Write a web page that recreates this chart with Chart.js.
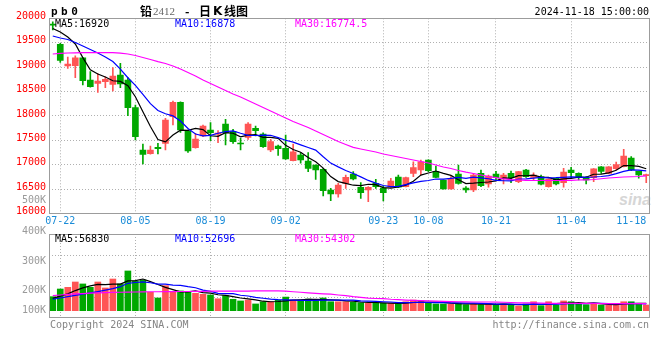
<!DOCTYPE html>
<html><head><meta charset="utf-8">
<script src="https://cdn.jsdelivr.net/npm/chart.js@4.4.1/dist/chart.umd.min.js"></script>
<style>
html,body{margin:0;padding:0;background:#fff;}
#wrap{position:relative;width:660px;height:360px;overflow:hidden;background:#fff;}
canvas{position:absolute;left:0;top:0;}
.t{position:absolute;font-family:'DejaVu Sans Mono',monospace;font-size:10px;line-height:12px;white-space:pre;}
.k{left:0;width:46px;text-align:right;color:#9a9a9a;}
</style></head><body>
<div id="wrap">
<div class="t" style="left:619px;top:191px;font:italic bold 16px 'Liberation Sans',sans-serif;color:#d6d6d6;line-height:18px;">sina</div>
<canvas id="pc" width="660" height="360"></canvas>
<canvas id="vc" width="660" height="360"></canvas>
<div class="t" style="left:51px;top:5px;font:bold 11px 'DejaVu Sans Mono',monospace;letter-spacing:3.5px;line-height:13px;color:#000;">pb0</div>
<div class="t" style="left:140px;top:4px;font:bold 12px 'Noto Sans CJK SC';line-height:14px;">铅</div>
<div class="t" style="left:153px;top:5px;font:11px 'Liberation Serif',serif;line-height:13px;color:#666;">2412</div>
<div class="t" style="left:185px;top:4px;font:bold 12px 'Noto Sans CJK SC';line-height:14px;">-</div>
<div class="t" style="left:199px;top:4px;font:bold 12px 'Noto Sans CJK SC';line-height:14px;">日</div>
<div class="t" style="left:213px;top:4px;font:bold 12px 'DejaVu Sans',sans-serif;line-height:14px;">K</div>
<div class="t" style="left:224px;top:4px;font:bold 12px 'Noto Sans CJK SC';line-height:14px;">线图</div>
<div class="t" id="dt" style="right:11px;top:6px;color:#000;"></div>
<div class="t" id="m5" style="left:55px;top:18px;color:#000;"></div>
<div class="t" id="m10" style="left:175px;top:18px;color:#0000ff;"></div>
<div class="t" id="m30" style="left:295px;top:18px;color:#ff00ff;"></div>
<div class="t" id="v5" style="left:55px;top:233px;color:#000;"></div>
<div class="t" id="v10" style="left:175px;top:233px;color:#0000ff;"></div>
<div class="t" id="v30" style="left:295px;top:233px;color:#ff00ff;"></div>
<div class="t k" id="k0" style="top:194px;"></div>
<div class="t k" id="k1" style="top:225px;"></div>
<div class="t k" id="k2" style="top:255px;"></div>
<div class="t k" id="k3" style="top:284px;"></div>
<div class="t k" id="k4" style="top:304px;"></div>
<div class="t" id="cp" style="left:50px;top:319px;color:#858585;"></div>
<div class="t" id="url" style="right:11px;top:319px;color:#858585;"></div>
</div>
<script>
const stamp = '2024-11-18 15:00:00';
const dates = ['07-19','07-22','07-23','07-24','07-25','07-26','07-29','07-30','07-31','08-01','08-02',
'08-05','08-06','08-07','08-08','08-09','08-12','08-13','08-14','08-15','08-16',
'08-19','08-20','08-21','08-22','08-23','08-26','08-27','08-28','08-29','08-30',
'09-02','09-03','09-04','09-05','09-06','09-09','09-10','09-11','09-12','09-13',
'09-18','09-19','09-20','09-23','09-24','09-25','09-26','09-27','09-30',
'10-08','10-09','10-10','10-11','10-14','10-15','10-16','10-17','10-18',
'10-21','10-22','10-23','10-24','10-25','10-28','10-29','10-30','10-31','11-01',
'11-04','11-05','11-06','11-07','11-08','11-11','11-12','11-13','11-14','11-15','11-18'];
const tickDates = ['07-22','08-05','08-19','09-02','09-23','10-08','10-21','11-04','11-18'];
const open = [19870,19468,19024,19030,19193,18737,18669,18702,18649,18839,
18737,18170,17304,17228,17360,17441,17986,18281,17693,17351,
17591,17714,17626,17836,17679,17437,17564,17748,17632,17304,
17386,17339,17085,17201,17079,16997,16909,16485,16403,16622,
16813,16541,16485,16622,16526,16541,16751,16553,16827,16895,
17099,16860,16690,16506,16813,16526,16485,16827,16608,16813,
16725,16827,16655,16895,16745,16758,16553,16725,16635,16895,
16827,16737,16737,16962,16827,16921,16962,17140,16868,16778];
const high = [19930,19488,19208,19234,19200,18907,18866,18804,18989,19079,
18784,18225,17427,17386,17441,17953,18307,18290,17714,17646,
17816,17863,17699,17932,17728,17543,17863,17795,17658,17523,
17406,17611,17427,17249,17249,17000,16930,16520,16623,16792,
16860,16635,16553,16704,16567,16725,16792,16751,17064,17099,
17105,16977,16695,16758,16997,16553,16827,16895,16792,16868,
16827,16874,16865,16909,16839,16792,16715,16730,16929,16950,
16839,16758,16925,16965,16965,17058,17318,17167,16872,16813];
const low = [19760,19099,18976,18784,18635,18590,18485,18579,18512,18579,
18006,17509,17018,17220,17222,17304,17816,17666,17257,17340,
17576,17494,17453,17406,17441,17304,17523,17591,17359,17269,
17195,17110,17080,17032,16860,16704,16363,16266,16336,16520,
16690,16315,16246,16520,16260,16535,16535,16548,16757,16792,
16860,16740,16500,16500,16602,16438,16451,16553,16541,16690,
16608,16635,16635,16745,16690,16588,16541,16588,16541,16725,
16690,16608,16655,16827,16813,16895,16958,16880,16725,16635];
const close = [19860,19140,19065,19193,18723,18600,18717,18751,18819,18655,
18170,17576,17216,17304,17331,17918,18281,17714,17284,17529,
17795,17658,17652,17658,17474,17427,17836,17699,17372,17474,
17331,17120,17269,17099,16929,16895,16471,16403,16588,16745,
16710,16430,16541,16553,16430,16670,16541,16737,16942,17064,
16880,16745,16506,16725,16622,16485,16792,16573,16772,16737,
16792,16737,16860,16758,16792,16602,16710,16608,16854,16840,
16737,16690,16921,16868,16962,17003,17181,16901,16792,16792];
const ma5 = [19791,19720,19617,19474,19196,18944,18860,18797,18722,18708,
18622,18394,18087,17784,17519,17469,17610,17710,17706,17745,
17721,17596,17584,17658,17647,17574,17609,17619,17562,17562,
17542,17399,17313,17259,17150,17062,16933,16759,16657,16620,
16583,16575,16603,16596,16533,16525,16547,16586,16664,16791,
16833,16874,16827,16784,16696,16617,16626,16639,16649,16672,
16733,16722,16780,16777,16788,16750,16744,16694,16713,16723,
16750,16746,16808,16811,16836,16889,16987,16983,16968,16920];
const ma10 = [19638,19597,19566,19505,19433,19361,19290,19208,19116,18960,
18783,18627,18442,18253,18114,18046,18002,17898,17745,17632,
17595,17603,17647,17682,17696,17647,17603,17601,17610,17605,
17558,17504,17466,17410,17356,17302,17166,17036,16958,16885,
16823,16754,16681,16627,16577,16554,16561,16595,16630,16662,
16679,16710,16707,16724,16743,16725,16750,16733,16716,16684,
16675,16674,16710,16713,16730,16742,16733,16737,16745,16755,
16750,16745,16751,16762,16779,16819,16866,16896,16890,16878];
const ma30 = [19269,19280,19290,19294,19296,19296,19296,19296,19296,19286,
19269,19238,19198,19157,19112,19075,19024,18962,18890,18819,
18737,18665,18594,18522,18450,18389,18317,18246,18174,18102,
18031,17959,17888,17826,17765,17693,17621,17550,17478,17417,
17359,17325,17294,17263,17222,17192,17161,17130,17099,17069,
17038,16997,16956,16925,16885,16850,16823,16792,16762,16737,
16711,16698,16690,16684,16680,16680,16680,16680,16680,16684,
16690,16694,16700,16715,16731,16741,16751,16756,16762,16774.5];
const volume = [108000,167000,180000,221000,206000,180000,221000,175000,244000,206000,
306000,229000,236000,142000,98000,193000,142000,152000,142000,134000,
126000,121000,92000,116000,88000,75000,82000,52000,69000,69000,
82000,105000,82000,82000,90000,77000,98000,69000,69000,69000,
65000,62000,57000,62000,57000,57000,52000,69000,82000,75000,
57000,52000,52000,52000,57000,46000,52000,46000,52000,46000,
52000,44000,36000,52000,69000,39000,69000,44000,75000,69000,
52000,46000,57000,44000,44000,44000,69000,69000,57000,44000];
const volMa5 = [95000,112000,130000,155000,176000,191000,202000,201000,205000,205000,
230000,232000,244000,224000,202000,180000,162000,145000,145000,153000,
139000,135000,123000,118000,109000,98000,91000,83000,73000,69000,
71000,75000,81000,84000,88000,87000,86000,83000,81000,76000,
74000,67000,64000,63000,61000,59000,57000,59000,63000,67000,
67000,67000,64000,58000,54000,52000,52000,51000,51000,48000,
50000,48000,46000,46000,51000,48000,53000,55000,59000,59000,
62000,57000,60000,54000,49000,47000,52000,54000,57000,56830];
const volMa10 = [88000,98000,108000,118000,127000,137000,147000,158000,170000,185000,
211000,217000,222000,215000,204000,205000,197000,195000,185000,177000,
159000,149000,134000,132000,131000,119000,113000,103000,96000,89000,
85000,83000,82000,79000,79000,79000,81000,82000,82000,82000,
81000,76000,74000,72000,69000,67000,62000,62000,63000,64000,
63000,62000,62000,61000,61000,59000,59000,57000,54000,51000,
51000,50000,48000,48000,50000,49000,51000,50000,53000,55000,
55000,55000,57000,56000,54000,54000,54000,57000,55000,52696];
const volMa30 = [116000,121000,126000,129000,132000,135000,137000,139000,141000,142000,
143000,144000,145000,146000,146000,147000,147000,148000,148000,149000,
149000,150000,150000,150000,151000,151000,151000,152000,152000,152000,
152000,150000,146000,142000,138000,134000,130000,127000,121000,116000,
108000,103000,97000,94000,93000,88000,85000,82000,80000,78000,
76000,74000,72000,70000,69000,68000,67000,67000,67000,66000,
65000,63000,61000,60000,60000,58000,57000,56000,57000,57000,
56000,56000,56000,55000,55000,54000,55000,55000,54000,54302];
const volAxisLabels = ['500K','400K','300K','200K','100K'];

const UP = '#ff5555', DOWN = '#00a800', GRID = '#b0b0b0', FRAME = '#9c9c9c';
const last = a => a[a.length - 1];
const candleColors = close.map((c, i) => c >= open[i] ? UP : DOWN);
const bodies = open.map((o, i) => [o, close[i]]);
const wicks = low.map((l, i) => [l, high[i]]);
const gridIdx = new Set(dates.map((d, i) => (tickDates.includes(d) && i < dates.length - 1) ? i : -1));

document.getElementById('dt').textContent = stamp;
document.getElementById('m5').textContent = 'MA5:' + last(ma5);
document.getElementById('m10').textContent = 'MA10:' + last(ma10);
document.getElementById('m30').textContent = 'MA30:' + last(ma30);
document.getElementById('v5').textContent = 'MA5:' + last(volMa5);
document.getElementById('v10').textContent = 'MA10:' + last(volMa10);
document.getElementById('v30').textContent = 'MA30:' + last(volMa30);
volAxisLabels.forEach((t, i) => { document.getElementById('k' + i).textContent = t; });
document.getElementById('cp').textContent = 'Copyright 2024 SINA.COM';
document.getElementById('url').textContent = 'http://finance.sina.com.cn';

Chart.defaults.font.family = "'DejaVu Sans Mono', monospace";
Chart.defaults.font.size = 10;

const framePlugin = {
  id: 'frame',
  afterDraw(chart) {
    const {ctx, chartArea: a} = chart;
    ctx.save();
    ctx.strokeStyle = FRAME;
    ctx.lineWidth = 1;
    const l = Math.round(a.left) + 0.5, t = Math.round(a.top) + 0.5;
    const r = Math.round(a.right) - 0.5, b = Math.round(a.bottom) - 0.5;
    ctx.strokeRect(l, t, r - l, b - t);
    ctx.restore();
  }
};

const lineDs = (data, color) => ({type: 'line', data, borderColor: color, borderWidth: 1.2,
  pointRadius: 0, tension: 0, order: 0, fill: false});

const xGridColor = ctx => gridIdx.has(ctx.index) ? GRID : 'rgba(0,0,0,0)';

new Chart(document.getElementById('pc'), {
  data: {
    labels: dates,
    datasets: [
      lineDs(ma30, '#ff00ff'),
      lineDs(ma10, '#0000ff'),
      lineDs(ma5, '#000000'),
      {type: 'bar', data: bodies, backgroundColor: candleColors, barThickness: 6, minBarLength: 1,
       grouped: false, borderWidth: 0, order: 1},
      {type: 'bar', data: wicks, backgroundColor: candleColors, barThickness: 1,
       grouped: false, borderWidth: 0, order: 2}
    ]
  },
  options: {
    responsive: false, animation: false, devicePixelRatio: 1,
    layout: {padding: {left: 0, right: 10, top: 18.3, bottom: 128.3}},
    plugins: {legend: {display: false}, tooltip: {enabled: false}},
    scales: {
      x: {
        type: 'category', offset: true,
        grid: {offset: false, drawTicks: false, color: xGridColor, lineWidth: 1},
        border: {display: false, dash: [1, 2]},
        ticks: {autoSkip: false, maxRotation: 0, minRotation: 0, align: 'inner', padding: 2,
          color: '#1a8cd8', callback: (v, i) => tickDates.includes(dates[i]) ? dates[i] : ''},
        afterFit: s => { s.height = 18; }
      },
      y: {
        type: 'linear', min: 16000, max: 20000,
        ticks: {stepSize: 500, color: '#ff0000', padding: 3, labelOffset: -2,
          callback: v => String(v)},
        grid: {drawTicks: false, lineWidth: 1,
          color: ctx => (ctx.tick && (ctx.tick.value === 16000 || ctx.tick.value === 20000)) ? 'rgba(0,0,0,0)' : GRID},
        border: {display: false, dash: [1, 2]},
        afterFit: s => { s.width = 49; }
      }
    }
  },
  plugins: [framePlugin]
});

const VMIN = -56210, VMAX = 590590;
new Chart(document.getElementById('vc'), {
  data: {
    labels: dates,
    datasets: [
      lineDs(volMa30, '#ff00ff'),
      lineDs(volMa10, '#0000ff'),
      lineDs(volMa5, '#000000'),
      {type: 'bar', data: volume, backgroundColor: candleColors, barThickness: 6,
       grouped: false, borderWidth: 0, order: 1}
    ]
  },
  options: {
    responsive: false, animation: false, devicePixelRatio: 1,
    layout: {padding: {left: 0, right: 10, top: 234, bottom: 42}},
    plugins: {legend: {display: false}, tooltip: {enabled: false}},
    scales: {
      x: {
        type: 'category', offset: true,
        grid: {offset: false, drawTicks: false, color: xGridColor, lineWidth: 1},
        border: {display: false, dash: [1, 2]},
        ticks: {display: false, autoSkip: false},
        afterFit: s => { s.height = 0; }
      },
      y: {
        type: 'linear', min: VMIN, max: VMAX,
        afterBuildTicks: s => { s.ticks = [0, 1, 2, 3, 4].map(k => ({value: VMIN + k * (VMAX - VMIN) / 4})); },
        ticks: {display: false},
        grid: {drawTicks: false, lineWidth: 1,
          color: ctx => (ctx.index === 0 || ctx.index === 4) ? 'rgba(0,0,0,0)' : GRID},
        border: {display: false, dash: [1, 2]},
        afterFit: s => { s.width = 49; }
      }
    }
  },
  plugins: [framePlugin]
});
</script>
</body></html>
